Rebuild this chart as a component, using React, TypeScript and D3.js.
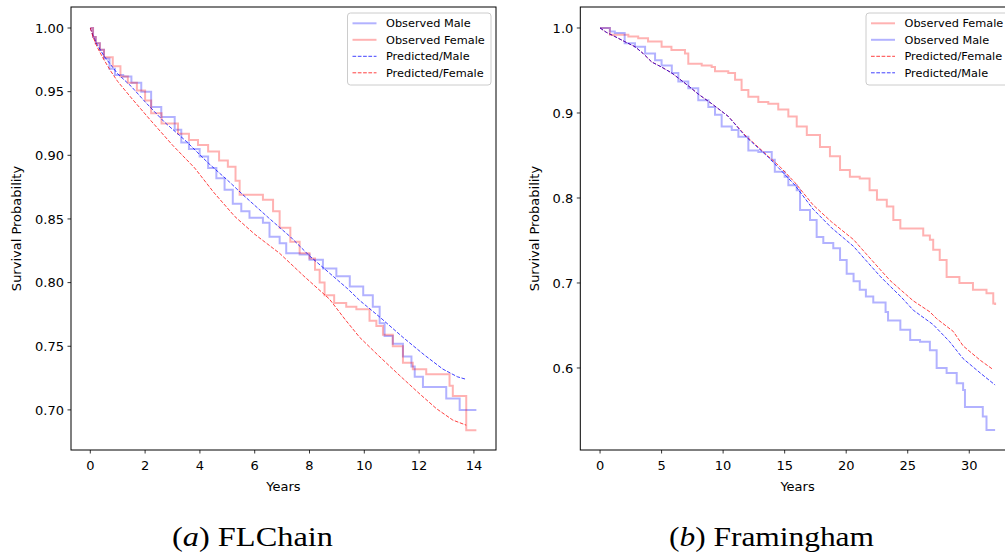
import React from "react";
import * as d3 from "d3";

// ---------- FLChain (panel a) ----------
const flObsMaleT = [0, 0.1, 0.2, 0.35, 0.5, 0.7, 0.9, 1.2, 1.5, 1.86, 2.22, 2.59, 3.08, 3.32, 3.6, 3.99, 4.3, 4.6, 4.9, 5.2, 5.51, 5.81, 6.3, 6.54, 6.91, 7.15, 7.64, 8.0, 8.49, 8.98, 9.47, 9.96, 10.31, 10.56, 10.74, 11.04, 11.41, 11.72, 11.84, 12.14, 12.99, 13.48, 14.09];
const flObsMaleV = [1.0, 0.993, 0.988, 0.983, 0.976, 0.968, 0.963, 0.962, 0.957, 0.950, 0.938, 0.930, 0.920, 0.910, 0.905, 0.899, 0.890, 0.882, 0.873, 0.862, 0.856, 0.851, 0.847, 0.836, 0.831, 0.823, 0.822, 0.818, 0.811, 0.805, 0.797, 0.790, 0.781, 0.768, 0.758, 0.752, 0.742, 0.734, 0.726, 0.718, 0.709, 0.700, 0.700];

const flObsFemaleT = [0, 0.1, 0.2, 0.35, 0.5, 0.82, 1.1, 1.37, 1.7, 2.0, 2.22, 2.6, 3.2, 3.6, 3.93, 4.3, 4.7, 5.02, 5.3, 5.45, 6.3, 6.67, 6.91, 7.3, 7.64, 8.0, 8.2, 8.37, 8.55, 8.9, 9.34, 9.71, 10.19, 10.44, 10.68, 11.04, 11.41, 11.77, 12.26, 13.11, 13.23, 13.72, 14.09];
const flObsFemaleV = [1.0, 0.993, 0.988, 0.983, 0.977, 0.970, 0.962, 0.957, 0.951, 0.943, 0.933, 0.925, 0.917, 0.912, 0.908, 0.903, 0.896, 0.891, 0.880, 0.869, 0.865, 0.856, 0.843, 0.832, 0.823, 0.819, 0.810, 0.800, 0.790, 0.784, 0.781, 0.779, 0.770, 0.766, 0.759, 0.750, 0.737, 0.732, 0.728, 0.719, 0.711, 0.684, 0.684];

const flPredMaleT = [0, 0.1, 0.25, 0.5, 0.75, 1.0, 1.5, 2.0, 2.71, 3.5, 4.3, 5.08, 5.57, 6.5, 7.3, 8.0, 8.7, 9.4, 9.83, 10.56, 11.41, 12.2, 12.87, 13.4, 13.72];
const flPredMaleV = [1.0, 0.994, 0.987, 0.978, 0.971, 0.964, 0.954, 0.942, 0.926, 0.911, 0.894, 0.879, 0.869, 0.851, 0.836, 0.821, 0.808, 0.795, 0.786, 0.773, 0.757, 0.743, 0.732, 0.726, 0.724];

const flPredFemaleT = [0, 0.1, 0.25, 0.5, 0.75, 1.0, 1.5, 2.22, 3.0, 3.81, 4.5, 5.27, 6.0, 6.91, 7.8, 8.73, 9.3, 9.83, 10.5, 11.29, 12.0, 12.63, 13.23, 13.72];
const flPredFemaleV = [1.0, 0.993, 0.985, 0.975, 0.966, 0.958, 0.945, 0.927, 0.908, 0.890, 0.871, 0.852, 0.838, 0.823, 0.805, 0.787, 0.771, 0.757, 0.743, 0.727, 0.713, 0.701, 0.692, 0.688];

// ---------- Framingham (panel b) ----------
const frObsFemaleT = [0, 0.8, 2.3, 3.1, 3.9, 5.0, 5.8, 6.9, 7.17, 8.26, 9.07, 9.34, 10.42, 10.97, 11.5, 12.05, 12.86, 13.67, 14.48, 15.3, 15.98, 16.8, 17.87, 18.68, 19.5, 20.3, 21.1, 21.9, 22.5, 23.3, 23.83, 24.4, 25.45, 26.26, 26.8, 27.07, 27.6, 28.16, 29.2, 30.3, 31.4, 31.95, 32.1];
const frObsFemaleV = [1.0, 0.992, 0.990, 0.988, 0.984, 0.978, 0.974, 0.970, 0.958, 0.956, 0.954, 0.949, 0.947, 0.939, 0.927, 0.919, 0.913, 0.911, 0.904, 0.896, 0.884, 0.874, 0.860, 0.849, 0.833, 0.825, 0.823, 0.809, 0.798, 0.790, 0.774, 0.764, 0.764, 0.756, 0.751, 0.739, 0.727, 0.707, 0.700, 0.692, 0.688, 0.676, 0.674];

const frObsMaleT = [0, 0.8, 1.2, 2.0, 2.84, 3.66, 4.47, 5.0, 5.83, 6.36, 7.17, 7.98, 8.8, 9.34, 9.88, 10.7, 11.24, 12.05, 12.86, 13.95, 14.2, 15.0, 15.3, 15.98, 16.25, 17.06, 17.6, 18.14, 18.95, 19.5, 20.04, 20.6, 21.1, 21.6, 22.2, 23.2, 23.4, 24.4, 25.2, 26.0, 26.8, 27.35, 28.16, 28.98, 29.5, 29.65, 31.1, 31.4, 32.1];
const frObsMaleV = [1.0, 0.996, 0.994, 0.982, 0.978, 0.970, 0.962, 0.956, 0.947, 0.937, 0.929, 0.915, 0.907, 0.898, 0.884, 0.880, 0.872, 0.856, 0.854, 0.845, 0.831, 0.825, 0.815, 0.809, 0.786, 0.774, 0.754, 0.747, 0.741, 0.727, 0.711, 0.702, 0.692, 0.684, 0.677, 0.666, 0.656, 0.645, 0.633, 0.631, 0.621, 0.600, 0.594, 0.582, 0.574, 0.554, 0.543, 0.527, 0.527];

const frPredFemaleT = [0, 0.5, 1.2, 2.0, 2.84, 3.5, 4.2, 5.0, 5.83, 7.17, 8.0, 9.07, 10.42, 11.78, 13.67, 14.6, 15.84, 17.3, 18.8, 20.6, 21.7, 22.75, 23.56, 24.5, 25.45, 26.8, 27.35, 28.7, 29.5, 30.9, 31.95];
const frPredFemaleV = [1.0, 0.995, 0.990, 0.984, 0.978, 0.970, 0.960, 0.954, 0.947, 0.932, 0.922, 0.911, 0.896, 0.874, 0.849, 0.837, 0.818, 0.792, 0.772, 0.751, 0.733, 0.716, 0.703, 0.691, 0.679, 0.666, 0.658, 0.643, 0.626, 0.609, 0.598];

const frPredMaleT = [0, 0.5, 1.2, 2.0, 2.84, 3.5, 4.2, 5.0, 5.83, 7.17, 8.0, 9.07, 10.42, 11.78, 13.67, 14.6, 15.84, 17.3, 18.8, 20.6, 21.7, 22.75, 23.3, 24.5, 25.45, 27.07, 28.4, 29.5, 30.9, 32.1];
const frPredMaleV = [1.0, 0.995, 0.990, 0.984, 0.978, 0.970, 0.960, 0.954, 0.947, 0.932, 0.922, 0.911, 0.896, 0.873, 0.848, 0.834, 0.815, 0.787, 0.765, 0.743, 0.725, 0.708, 0.700, 0.683, 0.668, 0.651, 0.631, 0.611, 0.594, 0.580];

const flXTicks = [0, 2, 4, 6, 8, 10, 12, 14];
const flYTicks = [0.7, 0.75, 0.8, 0.85, 0.9, 0.95, 1.0];
const frXTicks = [0, 5, 10, 15, 20, 25, 30];
const frYTicks = [0.6, 0.7, 0.8, 0.9, 1.0];

const BLUE_OBS = "rgba(0,0,255,0.3)";
const RED_OBS = "rgba(255,0,0,0.3)";
const BLUE_PRED = "rgba(0,0,255,0.75)";
const RED_PRED = "rgba(255,0,0,0.75)";

type Series = { t: number[]; v: number[]; kind: "obs" | "pred"; color: string; label: string };

const zip = (t: number[], v: number[]) => t.map((x, i) => [x, v[i]] as [number, number]);

function Panel(props: {
  x0: number; x1: number; y0: number; y1: number;
  xDom: [number, number]; yDom: [number, number];
  xTicks: number[]; yTicks: number[]; yFmt: string;
  series: Series[]; legendOrder: Series[];
  legendX: number; legendW: number; ylabelX: number;
  caption: [string, string]; captionX: number; captionW: number;
}) {
  const { x0, x1, y0, y1 } = props;
  const x = d3.scaleLinear().domain(props.xDom).range([x0, x1]);
  const y = d3.scaleLinear().domain(props.yDom).range([y1, y0]);
  const stepLine = d3.line<[number, number]>().x(d => x(d[0])).y(d => y(d[1])).curve(d3.curveStepAfter);
  const lin = d3.line<[number, number]>().x(d => x(d[0])).y(d => y(d[1]));
  const fmt = d3.format(props.yFmt);
  const font = "'DejaVu Sans', sans-serif";
  const lx = props.legendX;
  const ly = 13;
  return (
    <g>
      {props.series.map((s, i) => (
        <path key={i} d={(s.kind === "obs" ? stepLine : lin)(zip(s.t, s.v)) || ""}
          fill="none" stroke={s.color}
          strokeWidth={s.kind === "obs" ? 2 : 1}
          strokeDasharray={s.kind === "pred" ? "3.7,1.6" : undefined} />
      ))}
      <rect x={x0} y={y0} width={x1 - x0} height={y1 - y0} fill="none" stroke="#000" strokeWidth={1} />
      {props.xTicks.map(t => (
        <g key={"x" + t}>
          <line x1={x(t)} x2={x(t)} y1={y1} y2={y1 + 3.5} stroke="#000" strokeWidth={0.8} />
          <text x={x(t)} y={y1 + 19.5} fontSize={13} fontFamily={font} textAnchor="middle" fill="#000">{t}</text>
        </g>
      ))}
      {props.yTicks.map(t => (
        <g key={"y" + t}>
          <line x1={x0 - 3.5} x2={x0} y1={y(t)} y2={y(t)} stroke="#000" strokeWidth={0.8} />
          <text x={x0 - 7} y={y(t) + 4.7} fontSize={13} fontFamily={font} textAnchor="end" fill="#000">{fmt(t)}</text>
        </g>
      ))}
      <text x={(x0 + x1) / 2} y={491} fontSize={13} fontFamily={font} textAnchor="middle">Years</text>
      <text transform={`translate(${props.ylabelX},${(y0 + y1) / 2}) rotate(-90)`} fontSize={13} fontFamily={font}
        textAnchor="middle" dominantBaseline="central">Survival Probability</text>
      <rect x={lx} y={ly} width={props.legendW} height={72} rx={3} fill="rgba(255,255,255,0.8)" stroke="#cccccc" strokeWidth={1} />
      {props.legendOrder.map((s, i) => {
        const yy = ly + 10.3 + i * 16.5;
        return (
          <g key={"l" + i}>
            <line x1={lx + 5} x2={lx + 29} y1={yy} y2={yy} stroke={s.color}
              strokeWidth={s.kind === "obs" ? 2 : 1}
              strokeDasharray={s.kind === "pred" ? "3.7,1.6" : undefined} />
            <text x={lx + 38.5} y={yy + 4} fontSize={11.3} fontFamily={font}>{s.label}</text>
          </g>
        );
      })}
      <text x={props.captionX} y={546} fontSize={28} fontFamily="'Liberation Serif', serif" textAnchor="middle"
        textLength={props.captionW} lengthAdjust="spacingAndGlyphs">
        (<tspan fontStyle="italic">{props.caption[0]}</tspan>) {props.caption[1]}
      </text>
    </g>
  );
}

export default function App() {
  const flMaleObs: Series = { t: flObsMaleT, v: flObsMaleV, kind: "obs", color: BLUE_OBS, label: "Observed Male" };
  const flFemObs: Series = { t: flObsFemaleT, v: flObsFemaleV, kind: "obs", color: RED_OBS, label: "Observed Female" };
  const flMalePred: Series = { t: flPredMaleT, v: flPredMaleV, kind: "pred", color: BLUE_PRED, label: "Predicted/Male" };
  const flFemPred: Series = { t: flPredFemaleT, v: flPredFemaleV, kind: "pred", color: RED_PRED, label: "Predicted/Female" };

  const frFemObs: Series = { t: frObsFemaleT, v: frObsFemaleV, kind: "obs", color: RED_OBS, label: "Observed Female" };
  const frMaleObs: Series = { t: frObsMaleT, v: frObsMaleV, kind: "obs", color: BLUE_OBS, label: "Observed Male" };
  const frFemPred: Series = { t: frPredFemaleT, v: frPredFemaleV, kind: "pred", color: RED_PRED, label: "Predicted/Female" };
  const frMalePred: Series = { t: frPredMaleT, v: frPredMaleV, kind: "pred", color: BLUE_PRED, label: "Predicted/Male" };

  return (
    <div style={{ position: "absolute", left: 0, top: 0 }}>
      <svg width={1005} height={553} style={{ display: "block", background: "#fff" }}>
        <Panel x0={71} x1={496} y0={7} y1={450}
          xDom={[-0.7045, 14.806]} yDom={[0.6685, 1.0165]}
          xTicks={flXTicks} yTicks={flYTicks} yFmt=".2f"
          series={[flMaleObs, flFemObs, flMalePred, flFemPred]}
          legendOrder={[flMaleObs, flFemObs, flMalePred, flFemPred]}
          legendX={347.5} legendW={143.5} ylabelX={16}
          caption={["a", "FLChain"]} captionX={252.5} captionW={161} />
        <Panel x0={580.3} x1={1014.8} y0={7} y1={450}
          xDom={[-1.605, 33.7]} yDom={[0.5035, 1.0247]}
          xTicks={frXTicks} yTicks={frYTicks} yFmt=".1f"
          series={[frFemObs, frMaleObs, frFemPred, frMalePred]}
          legendOrder={[frFemObs, frMaleObs, frFemPred, frMalePred]}
          legendX={866} legendW={144} ylabelX={534}
          caption={["b", "Framingham"]} captionX={771.5} captionW={205} />
      </svg>
    </div>
  );
}
